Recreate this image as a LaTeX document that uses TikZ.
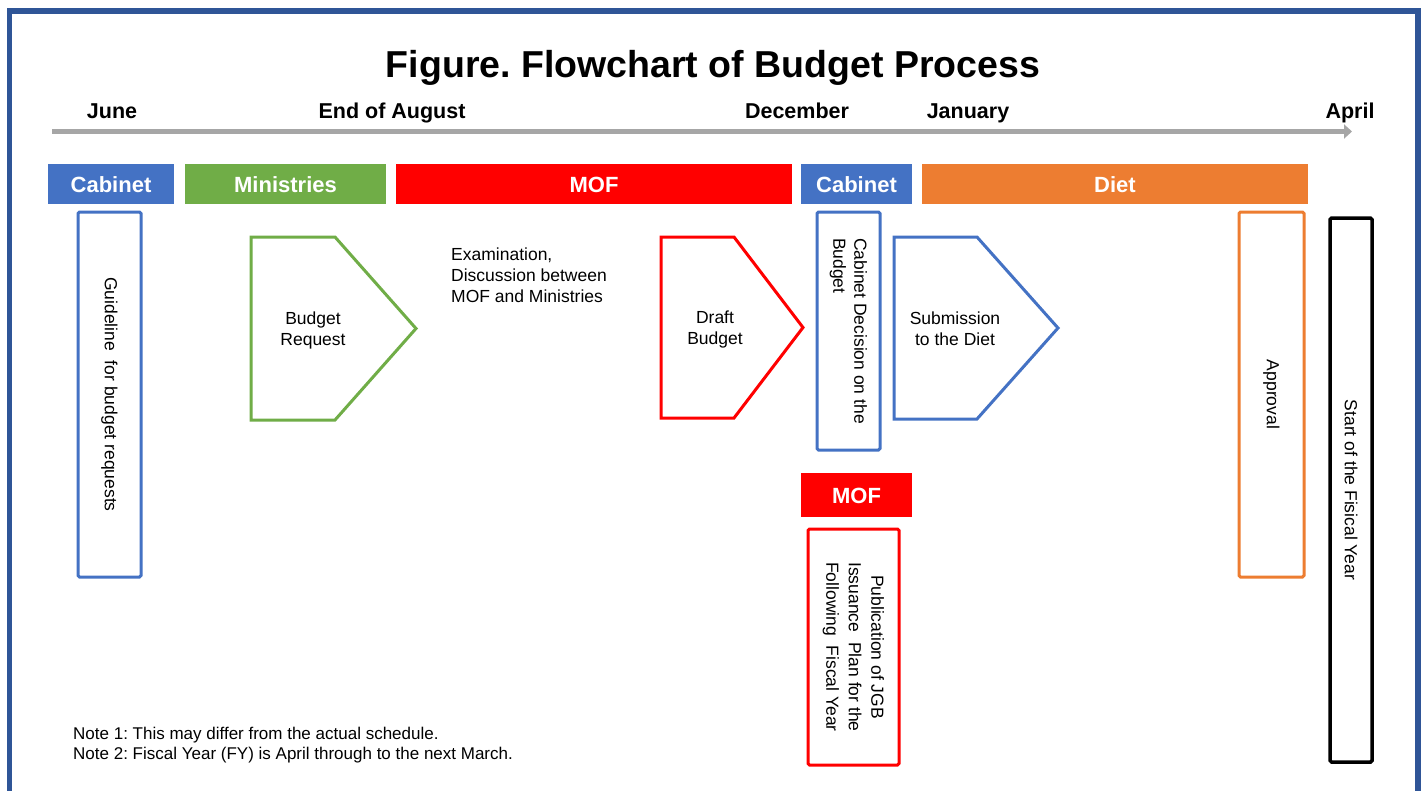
\documentclass[tikz,border=0pt]{standalone}
\usepackage{fontspec}
\setmainfont{Liberation Sans}
\usepackage{tikz}
\usetikzlibrary{calc}
\usetikzlibrary{positioning}
\usetikzlibrary{arrows.meta}
\frenchspacing

\definecolor{frameblue}{HTML}{2F5597}
\definecolor{cabblue}{HTML}{4472C4}
\definecolor{mingreen}{HTML}{70AD47}
\definecolor{mofred}{HTML}{FF0000}
\definecolor{dietorange}{HTML}{ED7D31}
\definecolor{axisgray}{HTML}{A6A6A6}

\tikzset{
  month/.style={inner sep=0pt,anchor=base,font=\fontsize{21.5}{26}\selectfont\bfseries},
  hdr/.style={inner sep=0pt,outer sep=0pt,minimum height=40pt,text height=17.5pt,text depth=0pt,text=white,font=\fontsize{22}{26}\selectfont\bfseries},
  vbox/.style={draw,line width=3pt,rounded corners=1.5pt,rotate=-90,inner sep=0pt,align=center,font=\fontsize{17.5}{21}\selectfont},
  pent/.style={line width=3pt},
  txt/.style={inner sep=0pt,align=center,font=\fontsize{17.5}{21}\selectfont}
}

\begin{document}
\begin{tikzpicture}[x=1pt,y=-1pt]
      \useasboundingbox (0,0) rectangle (1424,790);
      \fill[white] (0,0) rectangle (1424,790);
      \draw[frameblue,line width=5.5pt] (9.5,11) rectangle (1418,810);

      \node[inner sep=0pt,anchor=base,font=\fontsize{37.5}{42}\selectfont\bfseries] (title) at (713,77) {Figure. Flowchart of Budget Process};

      % time axis
      \node[month] (june) at (112,118) {June};
      \node[month] (aug) at (392,118) {End of August};
      \node[month] (dec) at (797,118) {December};
      \node[month] (jan) at (968,118) {January};
      \node[month] (apr) at (1350,118) {April};
      \coordinate (tstart) at (52,131.5);
      \coordinate (tend) at (1352,131.5);
      \draw[axisgray,line width=5.5pt,-{Triangle[length=8pt,width=14pt]}] (tstart) -- (tend);

      % actors
      \node[hdr,fill=cabblue,minimum width=126pt] (cab1) at (111,184) {Cabinet};
      \node[hdr,fill=mingreen,minimum width=201pt] (mins) at (285.5,184) {Ministries};
      \node[hdr,fill=mofred,minimum width=396pt] (mof1) at (594,184) {MOF};
      \node[hdr,fill=cabblue,minimum width=111pt] (cab2) at (856.5,184) {Cabinet};
      \node[hdr,fill=dietorange,minimum width=386pt] (diet) at (1115,184) {Diet};
      \node[hdr,fill=mofred,minimum width=111pt,minimum height=44pt] (mof2) at (856.5,495) {MOF};

      % steps
      \node[vbox,cabblue,text=black,minimum width=365pt,minimum height=63pt] (guide) at (109.5,394.5) {Guideline\ \ for budget requests};

      \draw[mingreen,pent] (251,237) -- (335,237) -- (416,328.5) -- (335,420) -- (251,420) -- cycle;
      \node[txt] (req) at (313,330) {Budget\\Request};

      \node[txt,align=left,anchor=north west] (exam) at (451,248) {Examination,\\Discussion between\\MOF and Ministries};

      \draw[mofred,pent] (661,237) -- (734,237) -- (803,327.5) -- (734,418) -- (661,418) -- cycle;
      \node[txt] (draft) at (715,329) {Draft\\Budget};

      \node[vbox,cabblue,text=black,align=left,minimum width=238pt,minimum height=63pt] (cabdec) at (848.5,331) {Cabinet Decision on the\\Budget};

      \draw[cabblue,pent] (894,237) -- (977,237) -- (1058,328) -- (977,419) -- (894,419) -- cycle;
      \node[txt] (submit) at (955,329) {Submission\\to the Diet};

      \node[vbox,mofred,text=black,minimum width=236pt,minimum height=91pt,font=\fontsize{17.5}{22.5}\selectfont] (jgb) at (853.5,647) {Publication of JGB\\Issuance\ \ Plan for the\\Following\ \ Fiscal Year};

      \node[vbox,dietorange,text=black,minimum width=365pt,minimum height=65pt] (appr) at (1271.5,394.5) {Approval};

      \node[vbox,black,line width=3.5pt,minimum width=544pt,minimum height=42pt] (fystart) at (1351,490) {Start of the Fisical Year};

      % notes
      \node[txt,align=left,anchor=west,font=\fontsize{17}{20}\selectfont] (notes) at (73,745) {Note 1: This may differ from the actual schedule.\\Note 2: Fiscal Year (FY) is April through to the next March.};
\end{tikzpicture}
\end{document}
